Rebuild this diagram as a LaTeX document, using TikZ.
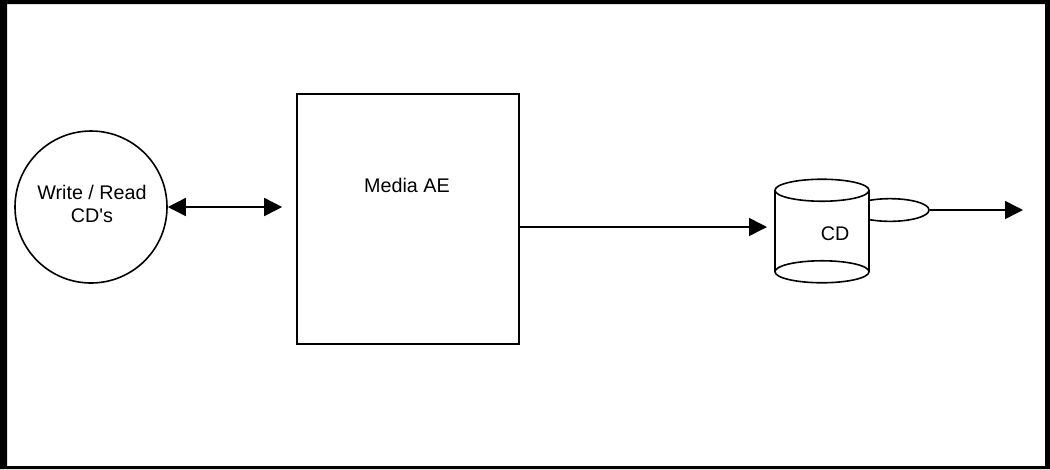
\documentclass[tikz,border=0pt]{standalone}
\usepackage{fontspec}
\setmainfont{Liberation Sans}
\usetikzlibrary{arrows.meta,shapes.geometric}
\tikzset{
    shape line/.style={line width=1.2pt},
    flow arrow/.style={line width=1.2pt,-{Triangle[length=13.5pt,width=13.5pt]}},
    both arrow/.style={line width=1.2pt,{Triangle[length=13.5pt,width=13.5pt]}-{Triangle[length=13.5pt,width=13.5pt]}},
    label text/.style={font=\fontsize{14.8}{17.3}\selectfont,align=center,inner sep=0pt}
}
\begin{document}
\begin{tikzpicture}[x=0.75pt,y=-0.75pt]
        % Draw page frame
        \useasboundingbox (0,0) rectangle (1050,469);
        \fill[black,even odd rule] (0,0) rectangle (1050,469) (7,4) rectangle (1045,466);
        % Draw application entity on the left
        \node[circle,draw,shape line,minimum size=114pt,inner sep=0pt] (writeread) at (91,207) {};
        \node[label text] (writereadtext) at (92,204) {Write / Read\\CD\textquotesingle s};
        % Draw media box
        \node[rectangle,draw,shape line,minimum width=166.5pt,minimum height=187.5pt,inner sep=0pt] (mediaae) at (408,219) {};
        \node[label text] (mediatext) at (407,185) {Media AE};
        % Draw tray behind the CD
        \node[ellipse,draw,shape line,minimum width=58.5pt,minimum height=17pt,inner sep=0pt] (tray) at (890,210) {};
        % Draw CD cylinder
        \node[rectangle,inner sep=0pt,minimum width=70.5pt,minimum height=60.75pt] (cd) at (822,231) {};
        \fill[white] (cd.north west) rectangle (cd.south east);
        \draw[shape line] (cd.north west) -- (cd.south west) (cd.north east) -- (cd.south east);
        \draw[shape line] (cd.south) ellipse [x radius=47,y radius=11];
        \draw[shape line,fill=white] (cd.north) ellipse [x radius=47,y radius=11];
        \node[label text] (cdtext) at (835,234) {CD};
        % Draw connectors
        \coordinate (mediaout) at (519,227);
        \coordinate (cdin) at (775,227);
        \coordinate (out) at (1023,210);
        \draw[both arrow,shorten >=10.5pt] (writeread.east) -- (writeread.east -| mediaae.west);
        \draw[flow arrow,shorten >=6pt] (mediaout) -- (cdin);
        \draw[flow arrow] (tray.east) -- (out);
\end{tikzpicture}
\end{document}
